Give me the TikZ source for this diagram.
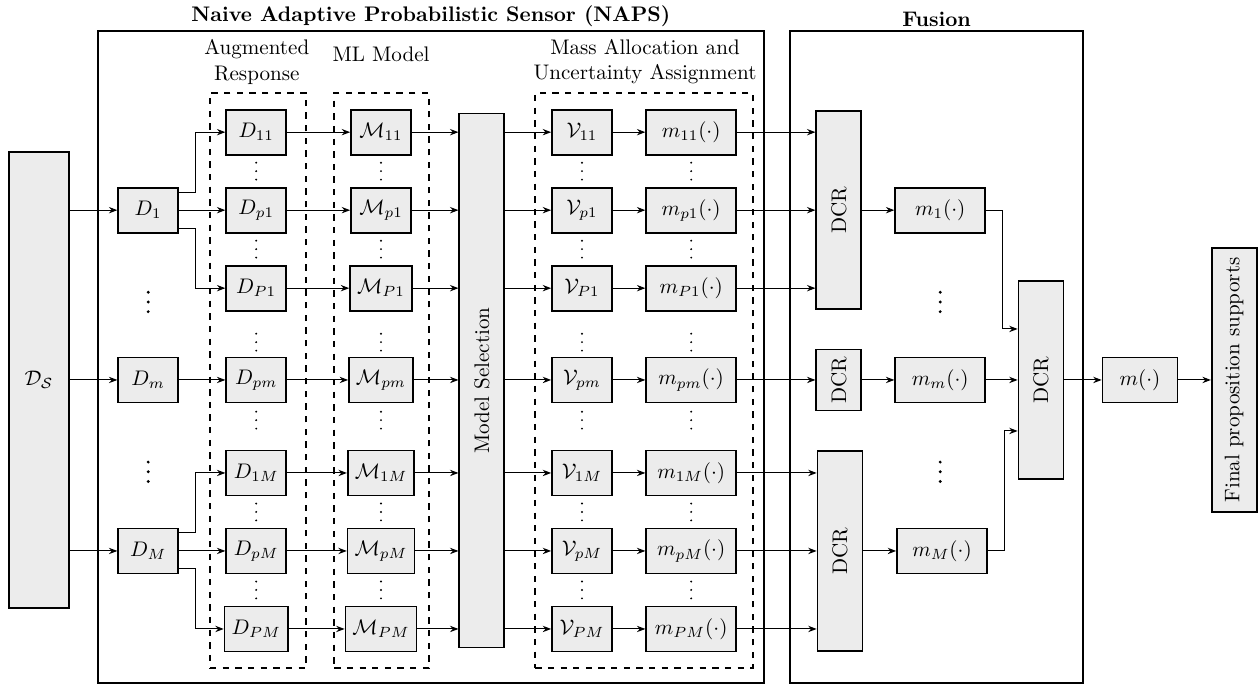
\documentclass[tikz,border=0pt]{standalone}
\usepackage{amsmath,amssymb}
\usepackage{tikz}
\usetikzlibrary{arrows.meta,calc}

\tikzset{
  box/.style={draw, thick, fill=gray!15, minimum width=1cm, minimum height=0.75cm},
  widebox/.style={box, minimum width=1.5cm},
  tallbox/.style={box, rotate=90},
  group/.style={draw, thick, dashed, inner sep=0pt},
  frame/.style={draw, line width=1pt, inner sep=0pt},
  link/.style={->, line width=0.5pt},
  % vertical dots
  smalldots/.pic={\foreach \k in {-1,0,1} \fill (0,\k*4pt) circle (0.5pt);},
  bigdots/.pic={\foreach \k in {-1,0,1} \fill (0,\k*4.6pt) circle (0.75pt);},
}

\begin{document}
\begin{tikzpicture}[>={Stealth[length=4pt,width=3pt]}]
    \useasboundingbox (0,0) rectangle (21,11.483);

    % Frames
    \node[frame, minimum width=11.1cm, minimum height=10.87cm] (naps) at (7.18,5.535) {};
    \node[above, yshift=-2pt, font=\bfseries] (napstitle) at (naps.north) {Naive Adaptive Probabilistic Sensor (NAPS)};
    \node[frame, minimum width=4.88cm, minimum height=10.87cm] (fusion) at (15.61,5.535) {};
    \node[above, yshift=-2pt, font=\bfseries] (fusiontitle) at (fusion.north) {Fusion};

    % Dashed groups
    \node[group, minimum width=1.6cm, minimum height=9.58cm] (auggroup) at (4.3,5.14) {};
    \node[group, minimum width=1.58cm, minimum height=9.58cm] (mlgroup) at (6.36,5.14) {};
    \node[group, minimum width=3.63cm, minimum height=9.58cm] (massgroup) at (10.735,5.14) {};
    \node[align=center] (auglabel) at (4.28,10.45) {Augmented\\Response};
    \node (mllabel) at (6.35,10.58) {ML Model};
    \node[align=center] (masslabel) at (10.75,10.45) {Mass Allocation and\\Uncertainty Assignment};

    % Source and responses
    \node[box, minimum height=7.6cm] (ds) at (0.65,5.15) {$\mathcal{D}_\mathcal{S}$};
    \node[box] (d1) at (2.47,7.98) {$D_1$};
    \node[box] (dm) at (2.47,5.15) {$D_m$};
    \node[box] (dM) at (2.47,2.3) {$D_M$};
    \pic at (2.47,6.45) {bigdots};
    \pic at (2.47,3.62) {bigdots};

    \draw[link] (ds.east |- d1) -- (d1);
    \draw[link] (ds) -- (dm);
    \draw[link] (ds.east |- dM) -- (dM);

    % Model selection
    \node[tallbox, minimum width=8.9cm] (sel) at (8.03,5.14) {Model Selection};

    % Rows
    \foreach \r/\y in {11/9.28, p1/7.98, P1/6.68, pm/5.15, 1M/3.6, pM/2.3, PM/1.0} {
        \node[box] (aug\r) at (4.27,\y) {$D_{\r}$};
        \node[box] (ml\r) at (6.35,\y) {$\mathcal{M}_{\r}$};
        \node[box] (v\r) at (9.7,\y) {$\mathcal{V}_{\r}$};
        \node[widebox] (mass\r) at (11.52,\y) {$m_{\r}(\cdot)$};
        \draw[link] (aug\r) -- (ml\r);
        \draw[link] (ml\r) -- (ml\r -| sel.north);
        \draw[link] (v\r -| sel.south) -- (v\r);
        \draw[link] (v\r) -- (mass\r);
    }
    \foreach \x in {4.27, 6.35, 9.7, 11.52}
        \foreach \y in {8.63, 7.33, 5.78, 4.48, 2.95, 1.65}
            \pic at (\x,\y) {smalldots};

    % Split of the responses
    \draw[link] ($(d1.east)+(0,0.3)$) -- ++(0.27,0) |- (aug11);
    \draw[link] (d1) -- (augp1);
    \draw[link] ($(d1.east)+(0,-0.3)$) -- ++(0.27,0) |- (augP1);
    \draw[link] (dm) -- (augpm);
    \draw[link] ($(dM.east)+(0,0.3)$) -- ++(0.27,0) |- (aug1M);
    \draw[link] (dM) -- (augpM);
    \draw[link] ($(dM.east)+(0,-0.3)$) -- ++(0.27,0) |- (augPM);

    % Fusion
    \node[tallbox, minimum width=3.3cm] (dcrA) at (13.98,7.98) {DCR};
    \node[tallbox] (dcrB) at (13.98,5.15) {DCR};
    \node[tallbox, minimum width=3.33cm] (dcrC) at (14.0,2.3) {DCR};
    \node[widebox] (mf1) at (15.67,7.98) {$m_1(\cdot)$};
    \node[widebox] (mfm) at (15.67,5.15) {$m_m(\cdot)$};
    \node[widebox] (mfM) at (15.7,2.3) {$m_M(\cdot)$};
    \pic at (15.67,6.45) {bigdots};
    \pic at (15.67,3.62) {bigdots};
    \node[tallbox, minimum width=3.3cm] (dcrF) at (17.35,5.15) {DCR};
    \node[box, minimum width=1.25cm] (mfin) at (19.0,5.15) {$m(\cdot)$};
    \node[tallbox, minimum width=4.4cm] (final) at (20.57,5.15) {Final proposition supports};

    \foreach \r in {11,p1,P1} \draw[link] (mass\r) -- (mass\r -| dcrA.north);
    \draw[link] (masspm) -- (dcrB);
    \foreach \r in {1M,pM,PM} \draw[link] (mass\r) -- (mass\r -| dcrC.north);

    \draw[link] (dcrA) -- (mf1);
    \draw[link] (dcrB) -- (mfm);
    \draw[link] (dcrC) -- (mfM);
    \draw[link] (mf1.east) -- ++(0.27,0) |- ($(dcrF.north)+(0,0.85)$);
    \draw[link] (mfm) -- (dcrF);
    \draw[link] (mfM.east) -- ++(0.27,0) |- ($(dcrF.north)+(0,-0.85)$);
    \draw[link] (dcrF) -- (mfin);
    \draw[link] (mfin) -- (final);
\end{tikzpicture}
\end{document}
